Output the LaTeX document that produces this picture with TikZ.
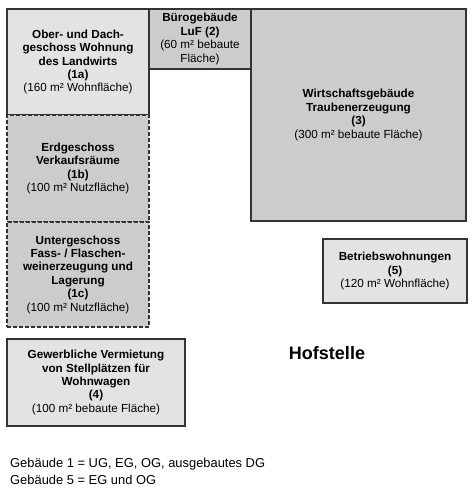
\documentclass[tikz,border=0pt]{standalone}
\usepackage{fontspec}
\setmainfont{Liberation Sans}
\usetikzlibrary{positioning}
\definecolor{hell}{gray}{0.89}
\definecolor{mittel}{gray}{0.80}
\definecolor{rand}{gray}{0.2}
\tikzset{Bau/.style={
    inner sep=0pt,
    draw=rand,
    line width=1.3pt,
    align=center,
    font=\fontsize{11.7}{13.4}\selectfont,
    }
}

\begin{document}
\begin{tikzpicture}[x=1pt, y=-1pt,
    teil/.style={Bau, dash pattern=on 4pt off 2pt, fill=mittel},
]
\useasboundingbox (0,0) rectangle (473,497);
% Hauptgebaeude
\node [Bau, fill=hell, minimum width=142pt, minimum height=106pt] (b1a) at (78,62)
  {\bfseries Ober- und Dach-\\ \bfseries geschoss Wohnung\\ \bfseries des Landwirts\\ \bfseries (1a)\\ (160 m² Wohnfläche)};
\node [teil, minimum width=142pt, minimum height=107pt] (b1b) at (78,168.5)
  {\bfseries Erdgeschoss\\ \bfseries Verkaufsräume\\ \bfseries (1b)\\ (100 m² Nutzfläche)};
\node [teil, minimum width=142pt, minimum height=105pt] (b1c) at (78,274.5)
  {\bfseries Untergeschoss\\ \bfseries Fass- / Flaschen-\\ \bfseries weinerzeugung und\\ \bfseries Lagerung\\ \bfseries (1c)\\ (100 m² Nutzfläche)};
% weitere Gebaeude
\node [Bau, fill=mittel, minimum width=102pt, minimum height=60pt] (b2) at (200,39)
  {\bfseries Bürogebäude\\ \bfseries LuF (2)\\ (60 m² bebaute\\ Fläche)};
\node [Bau, fill=mittel, minimum width=215pt, minimum height=212pt] (b3) at (358.5,115)
  {\bfseries Wirtschaftsgebäude\\ \bfseries Traubenerzeugung\\ \bfseries (3)\\ (300 m² bebaute Fläche)};
\node [Bau, fill=hell, minimum width=178pt, minimum height=87pt] (b4) at (96,382.5)
  {\bfseries Gewerbliche Vermietung\\ \bfseries von Stellplätzen für\\ \bfseries Wohnwagen\\ \bfseries (4)\\ (100 m² bebaute Fläche)};
\node [Bau, fill=hell, minimum width=144pt, minimum height=64pt] (b5) at (395,271)
  {\bfseries Betriebswohnungen\\ \bfseries (5)\\ (120 m² Wohnfläche)};
% Beschriftung
\node [font=\fontsize{18}{20}\selectfont\bfseries] (hof) at (327,353) {Hofstelle};
\node [anchor=west, align=left, inner sep=0pt, font=\fontsize{12.9}{17}\selectfont] (legende) at (10,471)
  {Gebäude 1 = UG, EG, OG, ausgebautes DG\\ Gebäude 5 = EG und OG};
\end{tikzpicture}
\end{document}
